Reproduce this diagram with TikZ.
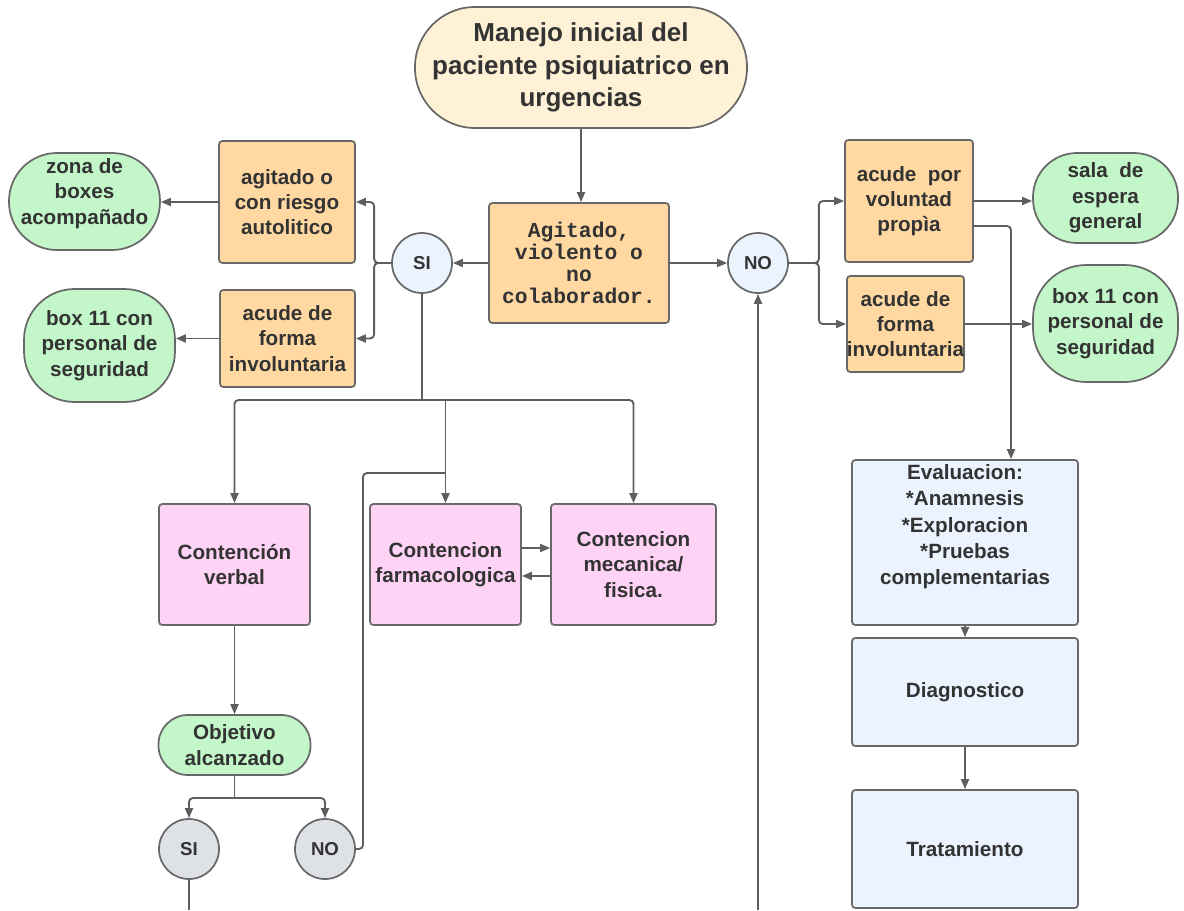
\documentclass[tikz,border=0pt]{standalone}
\usepackage{fontspec}
\setmainfont{Liberation Sans}
\setmonofont{Liberation Mono}
\usetikzlibrary{arrows.meta}
\definecolor{cream}{HTML}{FEF1D5}
\definecolor{orangefill}{HTML}{FFD9A1}
\definecolor{greenfill}{HTML}{C3F6C9}
\definecolor{pinkfill}{HTML}{FFD3F5}
\definecolor{bluefill}{HTML}{EBF3FF}
\definecolor{grayfill}{HTML}{DEE1E6}
\definecolor{bordergray}{HTML}{686868}
\definecolor{linegray}{HTML}{5E5E5E}
\definecolor{txt}{HTML}{333333}
\begin{document}
\begin{tikzpicture}[x=0.75pt,y=-0.75pt,
 base/.style={draw=bordergray, line width=1.3pt, text=txt, font=\fontsize{15.5}{19}\selectfont\bfseries, align=center, inner sep=0pt},
 obox/.style={base, fill=orangefill, rounded corners=2.5pt},
 gbox/.style={base, fill=greenfill},
 pbox/.style={base, fill=pinkfill, rounded corners=2.5pt},
 bbox/.style={base, fill=bluefill, rounded corners=2.5pt},
 circ/.style={base, circle, minimum size=45pt, font=\fontsize{14}{16}\selectfont\bfseries},
 arr/.style={draw=linegray, line width=1.4pt, -{Triangle[length=7.5pt,width=6pt]}, rounded corners=3pt},
 ln/.style={draw=linegray, line width=1.4pt, rounded corners=3pt}]
\useasboundingbox (0,0) rectangle (1184,910);

% nodes
\node[base, fill=cream, rounded corners=45pt, minimum width=249pt, minimum height=90.75pt,
  font=\fontsize{19.5}{24.5}\selectfont\bfseries] (title) at (581,67.5)
  {Manejo inicial del\\paciente psiquiatrico en\\urgencias};
\node[obox, minimum width=135pt, minimum height=90pt,
  font=\fontsize{16}{16.5}\selectfont\ttfamily\bfseries] (agit) at (579,263)
  {Agitado,\\violento o\\no\\colaborador.};
\node[circ, fill=bluefill] (si1) at (422,263) {SI};
\node[circ, fill=bluefill] (no1) at (758,263) {NO};

\node[obox, minimum width=102pt, minimum height=91.5pt] (riesgo) at (287,202)
  {agitado o\\con riesgo\\autolitico};
\node[obox, minimum width=101.25pt, minimum height=72.75pt] (invl) at (287.5,338.5)
  {acude de\\forma\\involuntaria};
\node[gbox, rounded corners=36pt, minimum width=113.25pt, minimum height=72.75pt] (zona) at (84.5,201.5)
  {zona de\\boxes\\acompañado\\[-4pt]};
\node[gbox, rounded corners=38pt, minimum width=113.25pt, minimum height=84.75pt] (boxL) at (99.5,345.5)
  {box 11 con\\personal de\\seguridad};

\node[pbox, minimum width=113.25pt, minimum height=90.75pt] (verbal) at (234.5,564.5)
  {Contención\\verbal};
\node[pbox, minimum width=113.25pt, minimum height=90.75pt] (farm) at (445.5,564.5)
  {Contencion\\farmacologica};
\node[pbox, minimum width=123.75pt, minimum height=90.75pt] (mec) at (633.5,564.5)
  {Contencion\\mecanica/\\fisica.};
\node[gbox, rounded corners=22pt, minimum width=114pt, minimum height=45pt] (obj) at (234.5,745)
  {Objetivo\\alcanzado};
\node[circ, fill=grayfill] (si2) at (189,849) {SI};
\node[circ, fill=grayfill] (no2) at (325,849) {NO};

\node[obox, minimum width=96pt, minimum height=91.5pt] (vol) at (909,201)
  {acude~ por\\voluntad\\propìa};
\node[obox, minimum width=87.75pt, minimum height=72pt] (invr) at (905.5,324)
  {acude de\\forma\\involuntaria};
\node[gbox, rounded corners=33pt, minimum width=108.75pt, minimum height=67.5pt] (sala) at (1105.5,198)
  {sala~ de\\espera\\general};
\node[gbox, rounded corners=40pt, minimum width=108.75pt, minimum height=87.75pt] (boxR) at (1105.5,323.5)
  {box 11 con\\personal de\\seguridad};

\node[bbox, minimum width=169.5pt, minimum height=123.75pt] (eval) at (965,542.5) {};
\node[text=txt, font=\fontsize{15.5}{19.7}\selectfont\bfseries, align=center, inner sep=0pt, anchor=north]
  (evaltxt) at ([yshift=-4pt]eval.north)
  {Evaluacion:\\*Anamnesis\\*Exploracion\\*Pruebas\\complementarias};
\node[bbox, minimum width=169.5pt, minimum height=81pt] (diag) at (965,692) {Diagnostico};
\node[bbox, minimum width=169.5pt, minimum height=88.5pt] (trat) at (965,849) {Tratamiento};

% helper coordinates
\coordinate (j1) at (422,400);
\coordinate (j2) at (234.5,798);
\coordinate (j3) at (445.5,473);
\coordinate (k1) at (363,473);
\coordinate (endsi) at (189,910);
\coordinate (startno) at (758,910);

% connectors
\draw[arr] (title.south) -- (title.south |- agit.north);
\draw[arr] (agit.west) -- (si1.east);
\draw[arr] (agit.east) -- (no1.west);

\draw[arr] (si1.west) -- ++(-17,0) |- (riesgo.east);
\draw[arr] (si1.west) -- ++(-17,0) |- (invl.east);
\draw[arr] (riesgo.west) -- (riesgo.west -| zona.east);
\draw[arr] (invl.west) -- (invl.west -| boxL.east);

\draw[ln] (si1.south) -- (j1);
\draw[arr] (j1) -| (verbal.north);
\draw[arr] (j1) -| (mec.north);
\draw[arr] (j1 -| farm.north) -- (farm.north);
\draw[arr] ([yshift=12.4pt]farm.east) -- ([yshift=12.4pt]farm.east -| mec.west);
\draw[arr] ([yshift=-8.6pt]mec.west) -- ([yshift=-8.6pt]mec.west -| farm.east);

\draw[arr] (verbal.south) -- (obj.north);
\draw[ln] (obj.south) -- (j2);
\draw[arr] (j2) -| (si2.north);
\draw[arr] (j2) -| (no2.north);
\draw[ln] (si2.south) -- (endsi);
\draw[ln] (no2.east) -| (k1) -- (j3);

\draw[arr] (no1.east) -- ++(30,0) |- (vol.west);
\draw[arr] (no1.east) -- ++(30,0) |- (invr.west);
\draw[arr] (vol.east) -- (vol.east -| sala.west);
\draw[arr] (invr.east) -- (invr.east -| boxR.west);
\draw[arr] ([yshift=-18.75pt]vol.east) -| ([xshift=34.5pt]eval.north);
\draw[arr] (eval.south) -- (diag.north);
\draw[arr] (diag.south) -- (trat.north);
\draw[arr] (startno) -- (no1.south);
\end{tikzpicture}
\end{document}
